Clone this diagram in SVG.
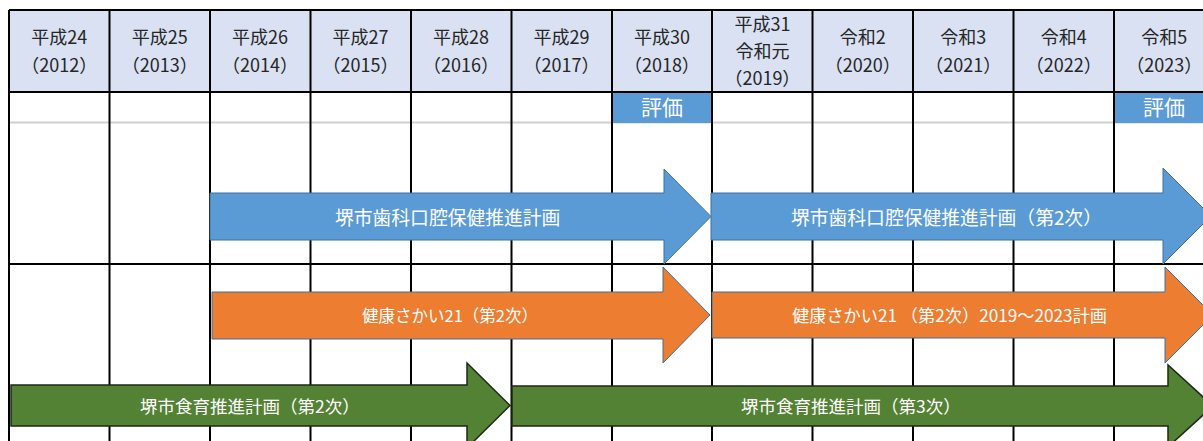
<svg xmlns="http://www.w3.org/2000/svg" width="1203" height="441" viewBox="0 0 1203 441">
<style>
.hd{font-family:"Noto Sans CJK JP","Noto Sans",sans-serif;font-size:18px;fill:#262626;text-anchor:middle}
.ev{font-family:"Noto Sans CJK JP",sans-serif;font-size:21px;fill:#ffffff;text-anchor:middle}
.lb{font-family:"Noto Sans CJK JP",sans-serif;fill:#ffffff}
.grid{stroke:#000;stroke-width:2;fill:none}
.blue{fill:#5B9BD5;stroke:#41719C;stroke-width:1}
.orange{fill:#ED7D31;stroke:#41719C;stroke-width:1}
.green{fill:#548235;stroke:#1E2A14;stroke-width:1.5}
</style>
<rect x="0" y="0" width="1203" height="441" fill="#ffffff"/>
<g id="header">
<rect x="9" y="10" width="1194" height="82" fill="#D9E1F2"/>
<line x1="9" y1="122.5" x2="1203" y2="122.5" stroke="#D0D0D0" stroke-width="2"/>
<rect x="612" y="93" width="100" height="30" fill="#5B9BD5"/>
<rect x="1114" y="93" width="89" height="30" fill="#5B9BD5"/>
</g>
<g id="grid" class="grid">
<line x1="9" y1="10" x2="1203" y2="10"/>
<line x1="9" y1="92" x2="1203" y2="92"/>
<line x1="9" y1="264" x2="1203" y2="264"/>
<line x1="9" y1="10" x2="9" y2="441"/>
<line x1="109.5" y1="10" x2="109.5" y2="441"/>
<line x1="210" y1="10" x2="210" y2="441"/>
<line x1="310.5" y1="10" x2="310.5" y2="441"/>
<line x1="411" y1="10" x2="411" y2="441"/>
<line x1="511.5" y1="10" x2="511.5" y2="441"/>
<line x1="612" y1="10" x2="612" y2="441"/>
<line x1="712" y1="10" x2="712" y2="441"/>
<line x1="812.5" y1="10" x2="812.5" y2="441"/>
<line x1="913" y1="10" x2="913" y2="441"/>
<line x1="1013.5" y1="10" x2="1013.5" y2="441"/>
<line x1="1114" y1="10" x2="1114" y2="441"/>
</g>
<g id="years">
<text class="hd" x="59.2" y="44">平成24</text><text class="hd" x="59.2" y="72">（2012）</text>
<text class="hd" x="159.7" y="44">平成25</text><text class="hd" x="159.7" y="72">（2013）</text>
<text class="hd" x="260.1" y="44">平成26</text><text class="hd" x="260.1" y="72">（2014）</text>
<text class="hd" x="360.6" y="44">平成27</text><text class="hd" x="360.6" y="72">（2015）</text>
<text class="hd" x="461" y="44">平成28</text><text class="hd" x="461" y="72">（2016）</text>
<text class="hd" x="561.5" y="44">平成29</text><text class="hd" x="561.5" y="72">（2017）</text>
<text class="hd" x="661.9" y="44">平成30</text><text class="hd" x="661.9" y="72">（2018）</text>
<text class="hd" x="762.4" y="31">平成31</text><text class="hd" x="762.4" y="58">令和元</text><text class="hd" x="762.4" y="85">（2019）</text>
<text class="hd" x="862.8" y="44">令和2</text><text class="hd" x="862.8" y="72">（2020）</text>
<text class="hd" x="963.3" y="44">令和3</text><text class="hd" x="963.3" y="72">（2021）</text>
<text class="hd" x="1063.7" y="44">令和4</text><text class="hd" x="1063.7" y="72">（2022）</text>
<text class="hd" x="1164.2" y="44">令和5</text><text class="hd" x="1164.2" y="72">（2023）</text>
<text class="ev" x="662" y="115">評価</text>
<text class="ev" x="1164" y="115">評価</text>
</g>
<g id="dental1">
<polygon class="blue" points="210,193 664,193 664,169 711,216.5 664,264 664,240 210,240"/>
<text class="lb" x="335" y="225" font-size="18.8">堺市歯科口腔保健推進計画</text>
</g>
<g id="dental2">
<polygon class="blue" points="711,193 1163,193 1163,168 1211,216 1163,264 1163,240 711,240"/>
<text class="lb" x="791" y="225" font-size="18.8">堺市歯科口腔保健推進計画（第2次）</text>
</g>
<g id="health1">
<polygon class="orange" points="212,292 663,292 663,267 710,315 663,363 663,339 212,339"/>
<text class="lb" x="362" y="322" font-size="16.5">健康さかい21（第2次）</text>
</g>
<g id="health2">
<polygon class="orange" points="712,292 1165,292 1165,267 1213,315 1165,363 1165,338 712,338"/>
<text class="lb" x="792" y="322" font-size="17.2">健康さかい21 （第2次）2019～2023計画</text>
</g>
<g id="food2">
<polygon class="green" points="11,385 467,385 467,363 510,405.5 467,448 467,426 11,426"/>
<text class="lb" x="140" y="413" font-size="17.5">堺市食育推進計画（第2次）</text>
</g>
<g id="food3">
<polygon class="green" points="512,386 1168,386 1168,365 1213,406 1168,447 1168,426 512,426"/>
<text class="lb" x="741" y="413" font-size="17.5">堺市食育推進計画（第3次）</text>
</g>
</svg>
